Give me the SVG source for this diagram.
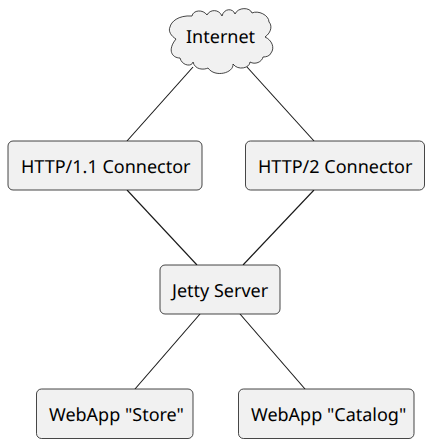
<svg xmlns="http://www.w3.org/2000/svg" width="430" height="444" viewBox="0 0 430 444">
<style>
.n{fill:#F1F1F1;stroke:#181818;stroke-width:.8}
.c{stroke:#181818;stroke-width:1.1;fill:none}
text{font-family:"Noto Sans",sans-serif;font-size:18px;fill:#000;text-rendering:geometricPrecision}
</style>
<rect width="430" height="444" fill="#fff"/>
<g id="connectors">
<line class="c" x1="193" y1="67" x2="127" y2="141"/>
<line class="c" x1="247" y1="67" x2="314" y2="141"/>
<line class="c" x1="127" y1="190" x2="197" y2="265"/>
<line class="c" x1="314" y1="190" x2="243" y2="265"/>
<line class="c" x1="200" y1="314" x2="135" y2="389"/>
<line class="c" x1="240" y1="314" x2="305" y2="389"/>
</g>
<g id="internet">
<path class="n" d="M176,39 C171,36 168,31 170,27 C171,22 178,15 192,16 C193,10 203,9 207,15 C210,9 219,9 222,16 C224,8 233,8 235,14 C238,7 250,7 252,13 C258,10 269,15 269,22 C272,25 272,32 265,37 C272,40 275,48 271,53 C270,56 266,57 263,57 C262,62 255,65 250,62 C250,68 238,71 233,64 C234,73 215,78 208,68 C204,70 195,70 193,62 C192,67 182,66 180,58 C172,58 167,50 176,39Z"/>
<text x="186" y="43">Internet</text>
</g>
<g id="http1">
<rect class="n" x="8" y="141" width="194" height="49" rx="5" ry="5"/>
<text x="21" y="173">HTTP/1.1 Connector</text>
</g>
<g id="http2">
<rect class="n" x="245.500" y="141" width="179" height="49" rx="5" ry="5"/>
<text x="258" y="173">HTTP/2 Connector</text>
</g>
<g id="jetty">
<rect class="n" x="160" y="265" width="120" height="49" rx="5" ry="5"/>
<text x="172" y="297">Jetty Server</text>
</g>
<g id="store">
<rect class="n" x="36.500" y="389" width="156.500" height="49.500" rx="5" ry="5"/>
<text x="49" y="421">WebApp "Store"</text>
</g>
<g id="catalog">
<rect class="n" x="238.500" y="389" width="175.500" height="49.500" rx="5" ry="5"/>
<text x="251" y="421">WebApp "Catalog"</text>
</g>
</svg>
